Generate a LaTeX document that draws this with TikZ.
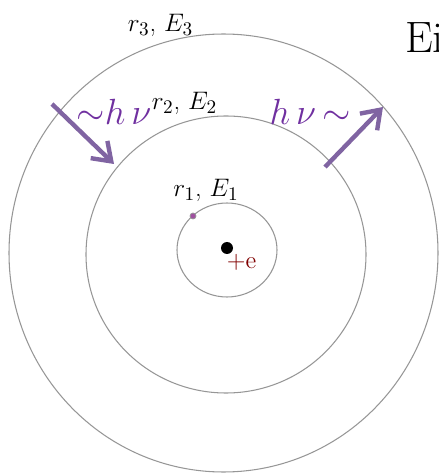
\documentclass[tikz,border=0pt]{standalone}
\usetikzlibrary{arrows.meta}
\definecolor{photon}{RGB}{128,100,162}
\definecolor{photontext}{RGB}{112,48,160}
\definecolor{orbitgray}{RGB}{150,150,150}
\definecolor{nucleusred}{RGB}{128,0,0}
\definecolor{electroncol}{RGB}{160,80,160}

\begin{document}
\begin{tikzpicture}[x=1cm,y=1cm,
    orbit/.style={orbitgray, line width=0.6pt},
    lab/.style={anchor=base, inner sep=0pt, font=\fontsize{15}{18}\selectfont},
    photonlab/.style={anchor=base, inner sep=0pt, text=photontext, font=\fontsize{20.74}{24}\selectfont},
    photonarrow/.style={photon, line width=2.5pt, -{Straight Barb[length=3.4mm,width=4.8mm]}}]
        \useasboundingbox (0,0) rectangle (8.78,9.46);
        \clip (0,0) rectangle (8.78,9.46);

        % orbits
        \draw[orbit] (4.47,4.40) ellipse [x radius=4.29, y radius=4.38];
        \draw[orbit] (4.52,4.37) ellipse [x radius=2.80, y radius=2.77];
        \draw[orbit] (4.54,4.46) ellipse [x radius=1.00, y radius=0.94];

        \node[lab] (l3) at (3.21,8.83) {$r_3$, $E_3$};
        \node[lab] (l2) at (3.69,7.26) {$r_2$, $E_2$};
        \node[lab] (l1) at (4.12,5.53) {$r_1$, $E_1$};

        % nucleus and electron
        \node[circle, fill=black, inner sep=0pt, minimum size=0.24cm] (nucleus) at (4.54,4.50) {};
        \node[anchor=base, inner sep=0pt, text=nucleusred, font=\fontsize{14}{17}\selectfont] (charge) at (4.83,4.08) {+e};
        \node[circle, fill=electroncol, draw=orbitgray, line width=0.4pt, inner sep=0pt, minimum size=0.12cm] (electron) at (3.86,5.14) {};

        % photons
        \coordinate (absA) at (1.04,7.38);
        \coordinate (absB) at (2.28,6.18);
        \coordinate (emiA) at (6.50,6.12);
        \coordinate (emiB) at (7.66,7.32);
        \draw[photonarrow] (absA) -- (absB);
        \draw[photonarrow] (emiA) -- (emiB);
        \node[photonlab] (habs) at (2.28,6.96) {${\sim}h\,\nu$};
        \node[photonlab] (hemi) at (6.20,6.96) {$h\,\nu\,{\sim}$};

        \node[anchor=base west, inner sep=0pt, font=\fontsize{25}{30}\selectfont] (title) at (8.10,8.40) {Ei};
    \end{tikzpicture}
\end{document}
